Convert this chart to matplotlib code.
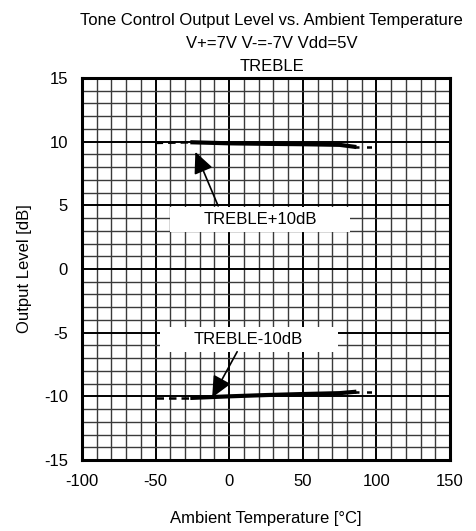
import numpy as np
import matplotlib.pyplot as plt
from matplotlib.patches import Rectangle

plt.rcParams['font.family'] = ['Liberation Sans', 'DejaVu Sans']
plt.rcParams['axes.unicode_minus'] = False

# TREBLE +10dB curve (measured)
temp_hi = [-25, 0, 25, 50, 75, 85]
level_hi = [9.95, 9.87, 9.83, 9.8, 9.75, 9.6]
# TREBLE -10dB curve (measured)
temp_lo = [-25, 0, 25, 50, 75, 85]
level_lo = [-10.12, -10.0, -9.9, -9.82, -9.75, -9.65]

# extrapolated dashed / dotted ends
ext_left_x = [-50, -25]
ext_hi_left = [9.9, 9.95]
ext_lo_left = [-10.12, -10.12]
ext_right_x = [85, 100]
ext_hi_right = [9.6, 9.6]
ext_lo_right = [-9.65, -9.65]

xticks = [-100, -50, 0, 50, 100, 150]
yticks = [-15, -10, -5, 0, 5, 10, 15]

fig = plt.figure(figsize=(4.76, 5.31), dpi=100)
ax = fig.add_axes([82/476, 1-460/531, 368/476, 382/531])

ax.set_xlim(-100, 150)
ax.set_ylim(-15, 15)

# grid
for x in range(-100, 151, 10):
    major = (x % 50 == 0)
    ax.axvline(x, color='black' if major else '#3a3a3a', lw=1.4 if major else 1.0, zorder=1)
for y in range(-15, 16, 1):
    major = (y % 5 == 0)
    ax.axhline(y, color='black' if major else '#3a3a3a', lw=1.4 if major else 1.0, zorder=1)

ax.plot(temp_hi, level_hi, color='black', lw=3, zorder=3)
ax.plot(temp_lo, level_lo, color='black', lw=3, zorder=3)
ax.plot(ext_left_x, ext_hi_left, color='black', lw=1.8, ls=(0, (3, 2)), zorder=3)
ax.plot(ext_left_x, ext_lo_left, color='black', lw=1.8, ls=(0, (3, 2)), zorder=3)
ax.plot(ext_right_x, ext_hi_right, color='black', lw=1.8, ls=(0, (2, 3)), zorder=3)
ax.plot(ext_right_x, ext_lo_right, color='black', lw=1.8, ls=(0, (2, 3)), zorder=3)

# label boxes
ax.add_patch(Rectangle((-40, 2.9), 122, 1.97, fc='white', ec='none', zorder=4))
ax.text(21, 3.9, 'TREBLE+10dB', ha='center', va='center', fontsize=12, zorder=5)
ax.add_patch(Rectangle((-47, -6.52), 121, 1.96, fc='white', ec='none', zorder=4))
ax.text(13, -5.55, 'TREBLE-10dB', ha='center', va='center', fontsize=12, zorder=5)

arrow = dict(arrowstyle='-|>,head_length=1.3,head_width=0.6', color='black', lw=1.2,
             shrinkA=0, shrinkB=0)
ax.annotate('', xy=(-23, 9.2), xytext=(-7.5, 4.95), arrowprops=arrow, zorder=5)
ax.annotate('', xy=(-11.6, -10.1), xytext=(5.4, -6.5), arrowprops=arrow, zorder=5)

ax.set_xticks(xticks)
ax.set_yticks(yticks)
ax.tick_params(length=0, labelsize=12, pad=10)
for s in ax.spines.values():
    s.set_linewidth(2.2)
    s.set_zorder(6)

ax.set_xlabel('Ambient Temperature [°C]', fontsize=12, labelpad=16)
ax.set_ylabel('Output Level [dB]', fontsize=12, labelpad=9)
ax.set_title('Tone Control Output Level vs. Ambient Temperature\nV+=7V V-=-7V Vdd=5V\nTREBLE',
             fontsize=12, linespacing=1.65, pad=5, x=0.515)

plt.savefig('out.png')
